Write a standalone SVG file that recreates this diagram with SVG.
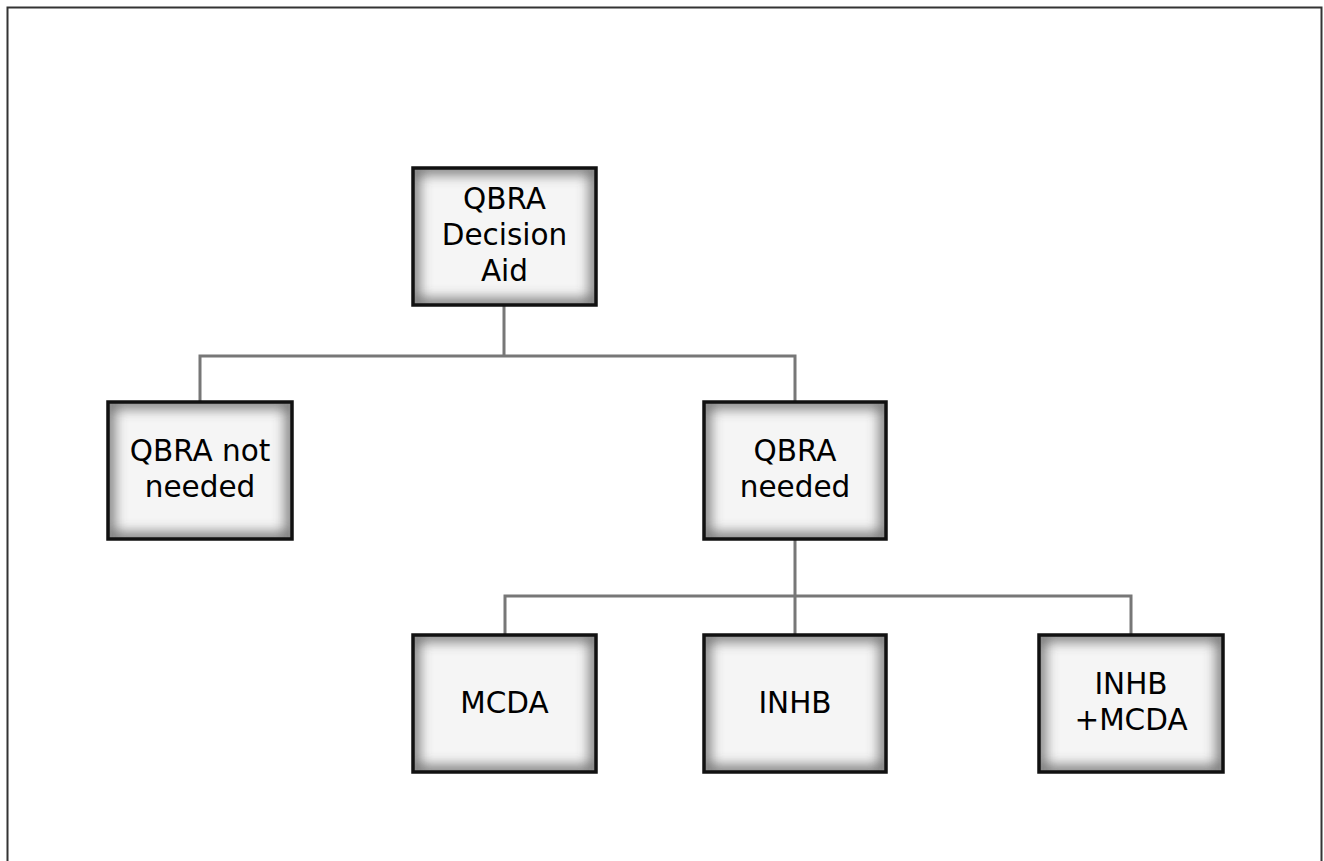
<svg xmlns="http://www.w3.org/2000/svg" width="1324" height="861" viewBox="0 0 1324 861">
<defs>
<filter id="blur" x="-20%" y="-20%" width="140%" height="140%">
<feGaussianBlur stdDeviation="7"/>
</filter>
<clipPath id="cb" clipPathUnits="objectBoundingBox"><rect x="0" y="0" width="1" height="1"/></clipPath>
<style>
.box{fill:#f5f5f5}
.glow{fill:none;stroke:#505050;stroke-width:10;filter:url(#blur);clip-path:url(#cb)}
.edge{fill:none;stroke:#111;stroke-width:3.5}
.lbl{font-family:"DejaVu Sans",Verdana,sans-serif;font-size:29.5px;fill:#000;text-anchor:middle}
.conn{fill:none;stroke:#777;stroke-width:3}
</style>
</defs>
<rect width="1324" height="861" fill="#fff"/>
<path d="M7.5 861 V7.5 H1321.5 V861" fill="none" stroke="#333" stroke-width="2"/>
<g id="connectors">
<path class="conn" d="M504 305 V356 M200 402 V356 H795 V402"/>
<path class="conn" d="M795 539 V635 M505 635 V596 H1131 V635"/>
</g>
<g id="root">
<rect class="box" x="413" y="168" width="183" height="137"/>
<rect class="glow" x="413" y="168" width="183" height="137"/>
<rect class="edge" x="413" y="168" width="183" height="137"/>
<text class="lbl" x="504.5" y="209">QBRA</text>
<text class="lbl" x="504.5" y="245">Decision</text>
<text class="lbl" x="504.5" y="281">Aid</text>
</g>
<g id="not-needed">
<rect class="box" x="108" y="402" width="184" height="137"/>
<rect class="glow" x="108" y="402" width="184" height="137"/>
<rect class="edge" x="108" y="402" width="184" height="137"/>
<text class="lbl" x="200" y="461">QBRA not</text>
<text class="lbl" x="200" y="497">needed</text>
</g>
<g id="needed">
<rect class="box" x="704" y="402" width="182" height="137"/>
<rect class="glow" x="704" y="402" width="182" height="137"/>
<rect class="edge" x="704" y="402" width="182" height="137"/>
<text class="lbl" x="795" y="461">QBRA</text>
<text class="lbl" x="795" y="497">needed</text>
</g>
<g id="mcda">
<rect class="box" x="413" y="635" width="183" height="137"/>
<rect class="glow" x="413" y="635" width="183" height="137"/>
<rect class="edge" x="413" y="635" width="183" height="137"/>
<text class="lbl" x="504.5" y="713">MCDA</text>
</g>
<g id="inhb">
<rect class="box" x="704" y="635" width="182" height="137"/>
<rect class="glow" x="704" y="635" width="182" height="137"/>
<rect class="edge" x="704" y="635" width="182" height="137"/>
<text class="lbl" x="795" y="713">INHB</text>
</g>
<g id="inhb-mcda">
<rect class="box" x="1039" y="635" width="184" height="137"/>
<rect class="glow" x="1039" y="635" width="184" height="137"/>
<rect class="edge" x="1039" y="635" width="184" height="137"/>
<text class="lbl" x="1131" y="694">INHB</text>
<text class="lbl" x="1131" y="730">+MCDA</text>
</g>
</svg>
